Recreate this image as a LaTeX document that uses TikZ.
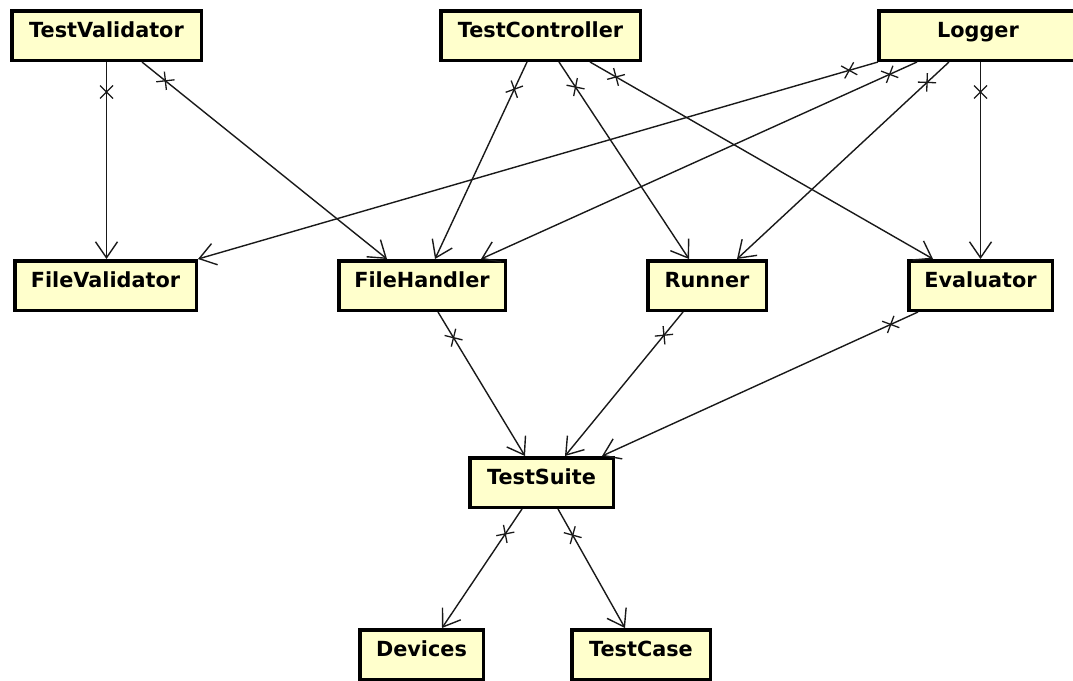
\documentclass[tikz,border=0pt]{standalone}
\usepackage{fontspec}
\setmainfont{DejaVu Sans}
\usetikzlibrary{arrows.meta,decorations.markings}
\definecolor{boxfill}{HTML}{FFFFCC}
\tikzset{
  cls/.style={draw=black, line width=3.5pt, fill=boxfill, inner sep=0pt,
    minimum height=49.5pt,
    font=\fontsize{20.8}{24}\selectfont\bfseries, text height=14pt, text depth=9.5pt},
  assoc/.style={draw=black!90, line width=1.4pt,
    -{Straight Barb[length=16pt,width=22pt]},
    postaction={decorate},
    decoration={markings, mark=at position 30pt with {
      \draw[line width=1.3pt,-] (-6.5pt,-6.5pt)--(6.5pt,6.5pt) (-6.5pt,6.5pt)--(6.5pt,-6.5pt);}}}
}
\begin{document}
\begin{tikzpicture}[x=1pt,y=-1pt]
\useasboundingbox (0,0) rectangle (1073,680);
% nodes
\node[cls, minimum width=189.5pt] (TV) at (106.5,35.5) {TestValidator};
\node[cls, minimum width=199.5pt] (TC) at (540.5,35.5) {TestController};
\node[cls, minimum width=198.5pt] (LG) at (978,35.5) {Logger};
\node[cls, minimum width=181.5pt] (FV) at (105.5,285.5) {FileValidator};
\node[cls, minimum width=166.5pt] (FH) at (422,285.5) {FileHandler};
\node[cls, minimum width=118.5pt] (RN) at (707,285.5) {Runner};
\node[cls, minimum width=143.5pt] (EV) at (980.5,285.5) {Evaluator};
\node[cls, minimum width=143.5pt] (TS) at (541.5,482.5) {TestSuite};
\node[cls, minimum width=123.5pt] (DV) at (421.5,654.5) {Devices};
\node[cls, minimum width=138.5pt] (TK) at (641,654.5) {TestCase};
% connectors
\draw[assoc] (TV.south) -- (TV.south |- FV.north);
\draw[assoc] ([xshift=35.5pt]TV.south) -- ([xshift=-35pt]FH.north);
\draw[assoc] ([xshift=-13.5pt]TC.south) -- ([xshift=13pt]FH.north);
\draw[assoc] ([xshift=18.5pt]TC.south) -- ([xshift=-18pt]RN.north);
\draw[assoc] ([xshift=49.5pt]TC.south) -- ([xshift=-47.5pt]EV.north);
\draw[assoc] ([xshift=-100pt]LG.south) -- (FV.north east);
\draw[assoc] ([xshift=-61pt]LG.south) -- ([xshift=59pt]FH.north);
\draw[assoc] ([xshift=-29pt]LG.south) -- ([xshift=30pt]RN.north);
\draw[assoc] (EV.north |- LG.south) -- (EV.north);
\draw[assoc] ([xshift=16pt]FH.south) -- ([xshift=-16.5pt]TS.north);
\draw[assoc] ([xshift=-24pt]RN.south) -- ([xshift=23.5pt]TS.north);
\draw[assoc] ([xshift=-62.5pt]EV.south) -- ([xshift=60.5pt]TS.north);
\draw[assoc] ([xshift=-19.5pt]TS.south) -- ([xshift=20.5pt]DV.north);
\draw[assoc] ([xshift=16.5pt]TS.south) -- ([xshift=-16pt]TK.north);
\end{tikzpicture}
\end{document}
